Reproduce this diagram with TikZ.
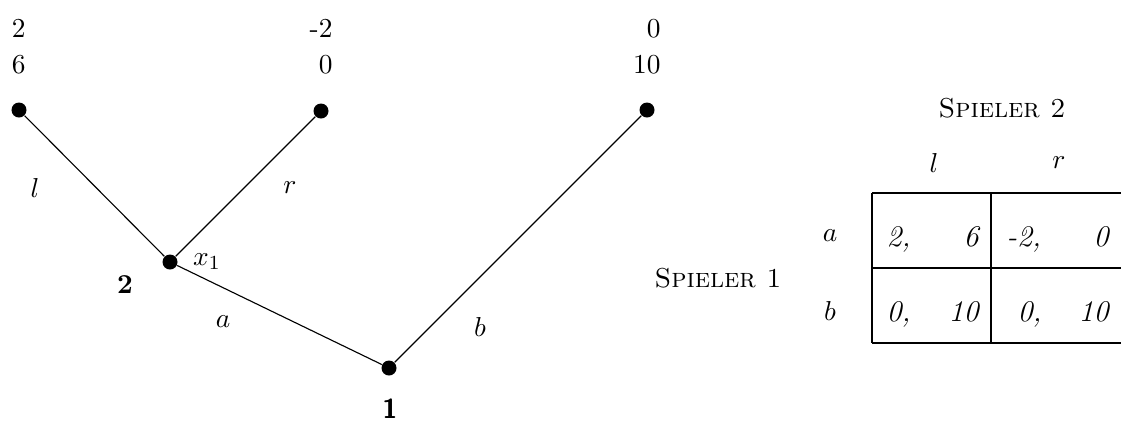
\documentclass[tikz,border=0pt,11pt]{standalone}
\usepackage{amsmath}
\usepackage{tikz}

\begin{document}
\begin{tikzpicture}[
    x=0.4pt, y=-0.4pt,
    dot/.style={circle, fill=black, inner sep=0pt, minimum size=6pt},
    branch/.style={line width=0.45pt},
    payoff/.style={inner sep=0pt, anchor=base east},
    title/.style={inner sep=0pt, anchor=base},
    cellw/.style={inner sep=0pt, anchor=base west, font=\large\itshape},
    celle/.style={inner sep=0pt, anchor=base east, font=\large\itshape},
    grid/.style={line width=0.45pt}
]
\clip (0,0) rectangle (1121,421);

% game tree
\node[dot] (root) at (389,368) {};
\node[dot] (xone) at (170,262) {};
\node[dot] (ll) at (19,110) {};
\node[dot] (lr) at (321,111) {};
\node[dot] (lb) at (647,110) {};

\draw[branch] (root) -- (xone);
\draw[branch] (root) -- (lb);
\draw[branch] (xone) -- (ll);
\draw[branch] (xone) -- (lr);

\node (labl) at (35,188) {$l$};
\node (labr) at (290,188) {$r$};
\node (laba) at (223,322) {$a$};
\node (labb) at (480,327) {$b$};
\node (labx) at (207,262) {$x_1$};
\node (pltwo) at (125,285) {\textbf{2}};
\node[title] (plone) at (390,418) {\textsf{\textbf{1}}};

% payoffs
\node[payoff] (p1ll) at (26,37) {2};
\node[payoff] (p2ll) at (26,73) {6};
\node[payoff] (p1lr) at (333,37) {-2};
\node[payoff] (p2lr) at (333,73) {0};
\node[payoff] (p1lb) at (661,37) {0};
\node[payoff] (p2lb) at (661,73) {10};

% normal form
\node[title] (sptwo) at (1002,117) {\textsc{Spieler 2}};
\node[title] (spone) at (718,287) {\textsc{Spieler 1}};
\node (coll) at (934,163) {$l$};
\node (colr) at (1059,163) {$r$};
\node (rowa) at (830,236) {$a$};
\node (rowb) at (830,311) {$b$};

\draw[grid] (872,193) -- (1130,193);
\draw[grid] (872,268) -- (1130,268);
\draw[grid] (872,343) -- (1130,343);
\draw[grid] (872,193) -- (872,343);
\draw[grid] (991,193) -- (991,343);

\node[cellw] (c11a) at (886,246) {2,};
\node[celle] (c11b) at (979,246) {6};
\node[cellw] (c12a) at (1006,246) {-2,};
\node[celle] (c12b) at (1109,246) {0};
\node[cellw] (c21a) at (886,321) {0,};
\node[celle] (c21b) at (979,321) {10};
\node[cellw] (c22a) at (1017,321) {0,};
\node[celle] (c22b) at (1109,321) {10};
\end{tikzpicture}
\end{document}
